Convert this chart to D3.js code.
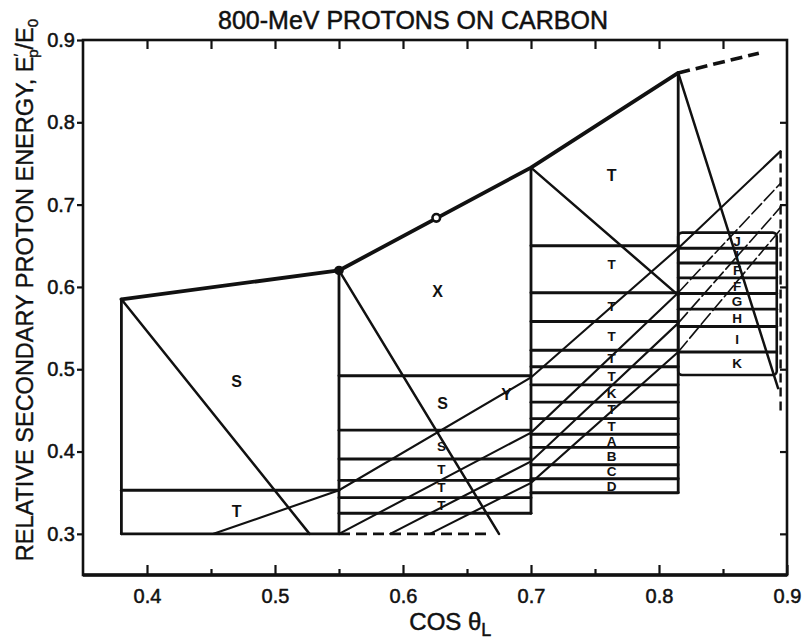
<!DOCTYPE html>
<html>
<head>
<meta charset="utf-8">
<script src="https://cdnjs.cloudflare.com/ajax/libs/d3/7.8.5/d3.min.js"></script>
<style>
  body { margin: 0; background: #fff; }
  svg text { font-family: "Liberation Sans", Arial, sans-serif; fill: #111; }
  .tick line { stroke: #111; stroke-width: 2.2; }
  .tick text { font-size: 20px; }
</style>
</head>
<body>
<div class="chart"></div>
<script>
// ---- axis ticks
var xMajor = [0.4, 0.5, 0.6, 0.7, 0.8, 0.9];
var xMinor = [0.45, 0.55, 0.65, 0.75, 0.85];
var yMajor = [0.3, 0.4, 0.5, 0.6, 0.7, 0.8, 0.9];

// ---- heavy upper boundary (solid part, then dashed extension)
var upperX = [0.38, 0.55, 0.7, 0.815];
var upperE = [0.585, 0.62, 0.745, 0.86];
var upperDashX = [0.815, 0.878];
var upperDashE = [0.86, 0.884];
var solidDot = [0.55, 0.62];
var openDot = [0.626, 0.684];

// ---- column edges (vertical lines)
var colX = [0.38, 0.55, 0.7, 0.815];
var colTop = [0.585, 0.62, 0.745, 0.86];
var colBot = [0.3, 0.3, 0.325, 0.35];

// ---- solid floors of the columns, and the dashed floor
var floorX0 = [0.38, 0.55, 0.7];
var floorX1 = [0.55, 0.7, 0.815];
var floorE = [0.3, 0.325, 0.35];
var dashFloorX = [0.55, 0.665];
var dashFloorE = 0.3;

// ---- descending diagonals from each column corner
var diagX0 = [0.38, 0.55, 0.7, 0.815];
var diagE0 = [0.585, 0.62, 0.745, 0.86];
var diagX1 = [0.527, 0.675, 0.815, 0.893];
var diagE1 = [0.3, 0.3, 0.59, 0.477];

// ---- horizontal bin edges in each column
var bands1 = [0.353];
var bands2 = [0.492, 0.426, 0.391, 0.365, 0.344];
var bands3 = [0.650, 0.593, 0.558, 0.523, 0.503, 0.481, 0.460, 0.440, 0.421, 0.405, 0.384, 0.367];
var bands4 = [0.647, 0.629, 0.611, 0.592, 0.573, 0.552, 0.521];
var box4 = { x0: 0.815, x1: 0.892, top: 0.666, bottom: 0.493 };
var dashRightX = 0.895;
var dashRightE = [0.45, 0.765];

// ---- rising hatch lines (cos, E) break points
var hatch1 = [[0.452, 0.3], [0.55, 0.353], [0.7, 0.49], [0.815, 0.647], [0.895, 0.765]];
var hatch2 = [[0.55, 0.3], [0.7, 0.423], [0.815, 0.593], [0.895, 0.726]];
var hatch3 = [[0.59, 0.3], [0.7, 0.388], [0.815, 0.556], [0.895, 0.697]];
var hatch4 = [[0.621, 0.3], [0.7, 0.362], [0.815, 0.521], [0.895, 0.67]];

// ---- letters written in the bins
var bigLabels = ["S", "T", "X", "S", "Y", "T"];
var bigLabelX = [0.47, 0.47, 0.627, 0.631, 0.681, 0.763];
var bigLabelE = [0.485, 0.327, 0.594, 0.459, 0.469, 0.736];
var smallLabels = ["S", "T", "T", "T",
                   "T", "T", "T", "T", "T", "K", "T", "T", "A", "B", "C", "D",
                   "J", "I", "F", "F", "G", "H", "I", "K"];
var smallLabelX = [0.630, 0.630, 0.630, 0.630,
                   0.763, 0.763, 0.763, 0.763, 0.763, 0.763, 0.763, 0.763, 0.763, 0.763, 0.763, 0.763,
                   0.861, 0.861, 0.861, 0.861, 0.861, 0.861, 0.861, 0.861];
var smallLabelE = [0.406, 0.378, 0.356, 0.335,
                   0.627, 0.577, 0.540, 0.513, 0.491, 0.471, 0.451, 0.431, 0.412, 0.394, 0.376, 0.358,
                   0.656, 0.638, 0.620, 0.601, 0.582, 0.562, 0.536, 0.507];

var W = 807, H = 640;
var svg = d3.select(".chart").append("svg")
  .attr("width", W)
  .attr("height", H);

var x = d3.scaleLinear().domain([0.35, 0.9]).range([83, 787]);
var y = d3.scaleLinear().domain([0.25, 0.9]).range([575, 40]);
var line = d3.line().x(function(d){ return x(d[0]); }).y(function(d){ return y(d[1]); });

// title
svg.append("text")
  .attr("x", 413).attr("y", 29)
  .attr("text-anchor", "middle")
  .style("font-size", "25px")
  .style("stroke", "#111").style("stroke-width", 0.5)
  .text("800-MeV PROTONS ON CARBON");

// axes: labelled ticks, inner minor ticks on all sides
var fmt = d3.format(".1f");
svg.append("g")
  .attr("transform", "translate(0," + y(0.25) + ")")
  .call(d3.axisBottom(x).tickValues(xMajor).tickSize(-10).tickPadding(14).tickFormat(fmt))
  .call(function(g){ g.select(".domain").remove(); });
svg.append("g")
  .attr("transform", "translate(0," + y(0.25) + ")")
  .call(d3.axisBottom(x).tickValues(xMinor).tickSize(-6).tickFormat(""))
  .call(function(g){ g.select(".domain").remove(); });
svg.append("g")
  .attr("transform", "translate(0," + y(0.9) + ")")
  .call(d3.axisTop(x).tickValues(xMajor.concat(xMinor).filter(function(v){ return v < 0.9; })).tickSize(-9).tickFormat(""))
  .call(function(g){ g.select(".domain").remove(); });
svg.append("g")
  .attr("transform", "translate(" + x(0.35) + ",0)")
  .call(d3.axisLeft(y).tickValues(yMajor).tickSize(6).tickPadding(2).tickFormat(fmt))
  .call(function(g){ g.select(".domain").remove(); });
svg.append("g")
  .attr("transform", "translate(" + x(0.9) + ",0)")
  .call(d3.axisRight(y).tickValues(yMajor.filter(function(v){ return v < 0.9; })).tickSize(-7).tickFormat(""))
  .call(function(g){ g.select(".domain").remove(); });
svg.selectAll(".tick text").style("stroke", "#111").style("stroke-width", 0.5);

// frame
svg.append("rect")
  .attr("x", x(0.35)).attr("y", y(0.9))
  .attr("width", x(0.9) - x(0.35)).attr("height", y(0.25) - y(0.9))
  .attr("fill", "none").attr("stroke", "#111").attr("stroke-width", 2.6);
svg.append("line")
  .attr("x1", x(0.35)).attr("x2", x(0.9))
  .attr("y1", y(0.25)).attr("y2", y(0.25))
  .attr("stroke", "#111").attr("stroke-width", 3.4);

// axis titles
svg.append("text")
  .attr("x", x(0.637)).attr("y", 630)
  .attr("text-anchor", "middle")
  .style("font-size", "24px")
  .style("stroke", "#111").style("stroke-width", 0.5)
  .call(function(t){
    t.append("tspan").text("COS \u03B8");
    t.append("tspan").attr("dy", 6).style("font-size", "18px").text("L");
  });

var ylab = svg.append("text")
  .attr("transform", "translate(33,290) rotate(-90)")
  .attr("text-anchor", "middle")
  .style("font-size", "23.5px")
  .style("stroke", "#111").style("stroke-width", 0.4);
ylab.append("tspan").text("RELATIVE SECONDARY PROTON ENERGY, E");
ylab.append("tspan").attr("dy", -9).style("font-size", "15px").text("\u2032");
ylab.append("tspan").attr("dx", -4).attr("dy", 14).style("font-size", "15px").text("p");
ylab.append("tspan").attr("dy", -5).text("/E");
ylab.append("tspan").attr("dy", 5).style("font-size", "15px").text("0");

var plot = svg.append("g")
  .attr("fill", "none")
  .attr("stroke", "#111")
  .attr("stroke-linecap", "round");

// verticals
plot.selectAll(".col").data(colX).enter().append("line")
  .attr("class", "col")
  .attr("x1", function(d){ return x(d); }).attr("x2", function(d){ return x(d); })
  .attr("y1", function(d, i){ return y(colTop[i]); })
  .attr("y2", function(d, i){ return y(colBot[i]); })
  .attr("stroke-width", 2.8);

// floors
plot.selectAll(".floor").data(floorE).enter().append("line")
  .attr("class", "floor")
  .attr("x1", function(d, i){ return x(floorX0[i]); })
  .attr("x2", function(d, i){ return x(floorX1[i]); })
  .attr("y1", function(d){ return y(d); }).attr("y2", function(d){ return y(d); })
  .attr("stroke-width", 2.9);
plot.append("line")
  .attr("x1", x(dashFloorX[0])).attr("x2", x(dashFloorX[1]))
  .attr("y1", y(dashFloorE)).attr("y2", y(dashFloorE))
  .attr("stroke-width", 2.9).attr("stroke-dasharray", "11,6")
  .attr("stroke-linecap", "butt");

// horizontal bin edges
function bands(vals, x0, x1) {
  plot.append("g").selectAll("line").data(vals).enter().append("line")
    .attr("x1", x(x0)).attr("x2", x(x1))
    .attr("y1", function(d){ return y(d); }).attr("y2", function(d){ return y(d); })
    .attr("stroke-width", 2.9);
}
bands(bands1, 0.38, 0.55);
bands(bands2, 0.55, 0.7);
bands(bands3, 0.7, 0.815);
bands(bands4, box4.x0, box4.x1);

plot.append("rect")
  .attr("x", x(box4.x0)).attr("y", y(box4.top))
  .attr("width", x(box4.x1) - x(box4.x0))
  .attr("height", y(box4.bottom) - y(box4.top))
  .attr("rx", 4)
  .attr("stroke-width", 2.6);

plot.append("line")
  .attr("x1", x(dashRightX)).attr("x2", x(dashRightX))
  .attr("y1", y(dashRightE[0])).attr("y2", y(dashRightE[1]))
  .attr("stroke-width", 2.4).attr("stroke-dasharray", "9,5")
  .attr("stroke-linecap", "butt");

// descending diagonals
plot.selectAll(".diag").data(diagX0).enter().append("line")
  .attr("class", "diag")
  .attr("x1", function(d){ return x(d); })
  .attr("y1", function(d, i){ return y(diagE0[i]); })
  .attr("x2", function(d, i){ return x(diagX1[i]); })
  .attr("y2", function(d, i){ return y(diagE1[i]); })
  .attr("stroke-width", 2.5);

// rising hatch lines: solid up to cos = 0.815, lighter dashes beyond for the lower three
[hatch1, hatch2, hatch3, hatch4].forEach(function(h, k){
  var cut = h.findIndex(function(p){ return p[0] >= 0.815; });
  plot.append("path").attr("d", line(h.slice(0, cut + 1))).attr("stroke-width", 2.1);
  plot.append("path").attr("d", line(h.slice(cut)))
    .attr("stroke-width", k === 0 ? 2.1 : 1.6)
    .attr("stroke-dasharray", k === 0 ? null : "14,4");
});

// heavy upper boundary
plot.append("path")
  .attr("d", line(upperX.map(function(v, i){ return [v, upperE[i]]; })))
  .attr("stroke-width", 3.8).attr("stroke-linejoin", "round");
plot.append("path")
  .attr("d", line(upperDashX.map(function(v, i){ return [v, upperDashE[i]]; })))
  .attr("stroke-width", 3.6).attr("stroke-dasharray", "12,6")
  .attr("stroke-linecap", "butt");

svg.append("circle")
  .attr("cx", x(solidDot[0])).attr("cy", y(solidDot[1])).attr("r", 4.8)
  .attr("fill", "#111");
svg.append("circle")
  .attr("cx", x(openDot[0])).attr("cy", y(openDot[1])).attr("r", 3.8)
  .attr("fill", "#fff").attr("stroke", "#111").attr("stroke-width", 2.6);

// bin letters
svg.append("g").selectAll("text").data(bigLabels).enter().append("text")
  .attr("x", function(d, i){ return x(bigLabelX[i]); })
  .attr("y", function(d, i){ return y(bigLabelE[i]); })
  .attr("dy", "0.35em")
  .attr("text-anchor", "middle")
  .style("font-size", "16px").style("font-weight", "bold")
  .text(function(d){ return d; });
svg.append("g").selectAll("text").data(smallLabels).enter().append("text")
  .attr("x", function(d, i){ return x(smallLabelX[i]); })
  .attr("y", function(d, i){ return y(smallLabelE[i]); })
  .attr("dy", "0.35em")
  .attr("text-anchor", "middle")
  .style("font-size", "13.5px").style("font-weight", "bold")
  .text(function(d){ return d; });
</script>
</body>
</html>
